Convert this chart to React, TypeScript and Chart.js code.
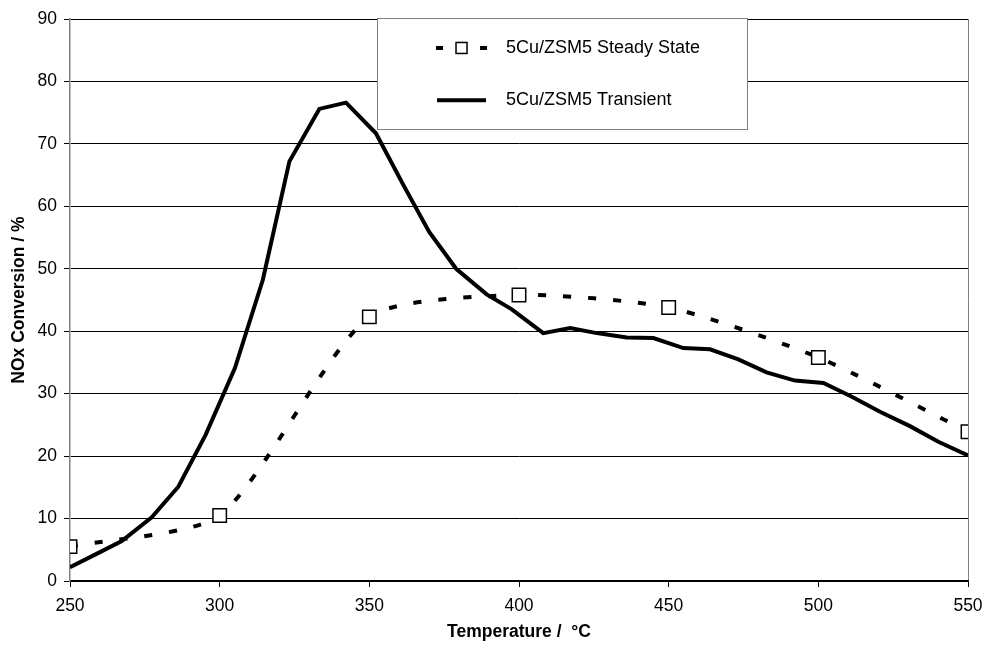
import React, { useEffect, useRef } from "react";
import { Chart, registerables } from "chart.js";

Chart.register(...registerables);

const steadyTemps = [250, 300, 350, 400, 450, 500, 550];
const steadyConv = [5.5, 10.5, 42.3, 45.8, 43.8, 35.8, 23.9];

const transientTemps = [
  250, 258.7, 267.3, 277.3, 286.2, 295.3, 305.1, 314.4, 323.3, 333.3, 342.2,
  352.2, 361.4, 370, 379, 389.2, 397.6, 408.1, 417.1, 426, 436, 444.9, 454.9,
  463.8, 473.3, 482.7, 492.2, 501.7, 511.2, 520.6, 530.6, 540.1, 550,
];
const transientConv = [
  2.2, 4.3, 6.4, 10.2, 15.1, 23.4, 34.1, 48.2, 67.2, 75.6, 76.6, 71.7, 63.4,
  55.9, 50.0, 45.9, 43.5, 39.7, 40.5, 39.7, 39.0, 38.9, 37.3, 37.1, 35.5, 33.4,
  32.1, 31.7, 29.5, 27.1, 24.8, 22.3, 20.1,
];

const seriesNames = ["5Cu/ZSM5 Steady State", "5Cu/ZSM5 Transient"];
const xTitle = "Temperature /  °C";
const yTitle = "NOx Conversion / %";

const FONT = "'Liberation Sans', Arial, sans-serif";

const boxLegend = {
  id: "boxLegend",
  beforeDatasetsDraw(chart: any) {
    const { ctx, chartArea: a } = chart;
    const w = a.right - a.left;
    const h = a.bottom - a.top;
    const x0 = a.left + w * 0.3419;
    const x1 = a.left + w * 0.7539;
    const y0 = a.top - 1;
    const y1 = a.top + h * 0.1957;
    ctx.save();
    ctx.fillStyle = "#ffffff";
    ctx.fillRect(x0, y0, x1 - x0, y1 - y0);
    ctx.strokeStyle = "#808080";
    ctx.lineWidth = 1;
    ctx.strokeRect(Math.round(x0) + 0.5, Math.round(y0) + 0.5, Math.round(x1 - x0), Math.round(y1 - y0));
    const r1 = y0 + (y1 - y0) * 0.27;
    const r2 = y0 + (y1 - y0) * 0.74;
    const sx = x0 + 59;
    // entry 1: dashed with square
    ctx.fillStyle = "#000";
    ctx.fillRect(sx, r1 - 2, 7, 4);
    ctx.fillRect(sx + 44, r1 - 2, 7, 4);
    ctx.fillStyle = "#fff";
    ctx.fillRect(sx + 20, r1 - 5.5, 11, 11);
    ctx.strokeStyle = "#000";
    ctx.lineWidth = 1.5;
    ctx.strokeRect(sx + 20, r1 - 5.5, 11, 11);
    // entry 2: solid
    ctx.lineWidth = 4;
    ctx.beginPath();
    ctx.moveTo(sx + 1, r2);
    ctx.lineTo(sx + 50, r2);
    ctx.stroke();
    ctx.fillStyle = "#000";
    ctx.font = `18px ${FONT}`;
    ctx.textBaseline = "middle";
    ctx.textAlign = "left";
    ctx.fillText(seriesNames[0], x0 + 129, r1);
    ctx.fillText(seriesNames[1], x0 + 129, r2);
    ctx.restore();
  },
};

export default function App() {
  const ref = useRef<HTMLCanvasElement>(null);
  useEffect(() => {
    if (!ref.current) return;
    const chart = new Chart(ref.current, {
      type: "line",
      data: {
        datasets: [
          {
            label: seriesNames[0],
            data: steadyTemps.map((t, i) => ({ x: t, y: steadyConv[i] })),
            borderColor: "#000",
            borderWidth: 4,
            borderDash: [8, 17],
            borderCapStyle: "butt",
            tension: 0.22,
            pointStyle: "rect",
            pointRadius: 9.5,
            pointBackgroundColor: "#fff",
            pointBorderColor: "#000",
            pointBorderWidth: 1.5,
            fill: false,
          },
          {
            label: seriesNames[1],
            data: transientTemps.map((t, i) => ({ x: t, y: transientConv[i] })),
            borderColor: "#000",
            borderWidth: 4,
            tension: 0,
            pointRadius: 0,
            fill: false,
          },
        ],
      },
      options: {
        responsive: false,
        animation: false,
        devicePixelRatio: 1,
        layout: { padding: { top: 19, right: 15, left: 0, bottom: 0 } },
        plugins: {
          legend: { display: false },
          tooltip: { enabled: false },
        },
        scales: {
          x: {
            type: "linear",
            min: 250,
            max: 550,
            ticks: {
              stepSize: 50,
              color: "#000",
              font: { family: FONT, size: 17.5 },
              padding: 9,
              maxRotation: 0,
            },
            grid: {
              drawOnChartArea: true,
              color: (c: any) => (c.tick && c.tick.value === 550 ? "#808080" : "rgba(0,0,0,0)"),
              tickColor: "#000",
              tickLength: 6,
              lineWidth: 1,
            },
            border: { color: "#000", width: 1.5 },
            title: {
              display: true,
              text: xTitle,
              color: "#000",
              font: { family: FONT, size: 17.5, weight: "bold" },
              padding: { top: 0, bottom: 4 },
            },
            afterFit: (s: any) => {
              s.height = 66;
              s.paddingLeft = 0;
              s.paddingRight = 0;
            },
          },
          y: {
            min: 0,
            max: 90,
            ticks: {
              stepSize: 10,
              color: "#000",
              font: { family: FONT, size: 17.5 },
              padding: 7,
            },
            grid: {
              color: "#000",
              lineWidth: 1,
              tickLength: 6,
              tickColor: "#000",
            },
            border: { color: "#808080", width: 1.5 },
            title: {
              display: true,
              text: yTitle,
              color: "#000",
              font: { family: FONT, size: 17.5, weight: "bold" },
              padding: { top: 9, bottom: 0 },
            },
            afterFit: (s: any) => {
              s.width = 70;
              s.paddingTop = 0;
              s.paddingBottom = 0;
            },
          },
        },
      },
      plugins: [boxLegend],
    });
    return () => chart.destroy();
  }, []);
  return (
    <div style={{ position: "absolute", left: 0, top: 0, width: 983, height: 647, background: "#fff" }}>
      <canvas ref={ref} width={983} height={647} />
    </div>
  );
}
